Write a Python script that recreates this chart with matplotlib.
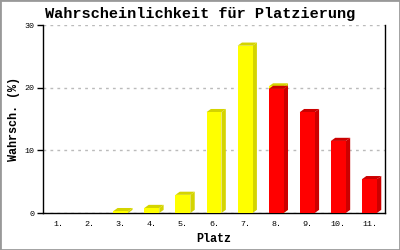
import matplotlib.pyplot as plt
from matplotlib.patches import Polygon, Rectangle

places = ['1.', '2.', '3.', '4.', '5.', '6.', '7.', '8.', '9.', '10.', '11.']
yellow_vals = [0, 0, 0.3, 0.8, 2.9, 16.1, 26.7, 20.2, 0, 0, 0]
red_vals = [0, 0, 0, 0, 0, 0, 0, 19.8, 16.1, 11.5, 5.4]

plt.rcParams['font.family'] = 'Liberation Mono'

fig = plt.figure(figsize=(4, 2.5), dpi=100)
ax = fig.add_axes([0.1075, 0.148, 0.855, 0.752])
ax.set_xlim(-0.5, len(places) - 0.5)
ax.set_ylim(0, 30)

w = 0.48
dx = 0.14
dy = 0.5


def bar3d(i, v, front, dark):
    if v <= 0:
        return
    l, r = i - w / 2, i + w / 2
    ax.add_patch(Polygon([(r, 0), (r + dx, dy), (r + dx, v + dy), (r, v)],
                         closed=True, fc=dark, ec='none', zorder=3))
    ax.add_patch(Polygon([(l, v), (l + dx, v + dy), (r + dx, v + dy), (r, v)],
                         closed=True, fc=dark, ec='none', zorder=3))
    ax.add_patch(Rectangle((l, 0), w, v, fc=front, ec='none', zorder=3))


for i, v in enumerate(yellow_vals):
    bar3d(i, v, '#ffff00', '#d4d400')
for i, v in enumerate(red_vals):
    bar3d(i, v, '#ff0000', '#cc0000')

ax.set_yticks([0, 10, 20, 30])
ax.set_xticks(range(len(places)))
ax.set_xticklabels(places)
ax.tick_params(axis='y', length=4, width=1, labelsize=6, pad=2)
ax.tick_params(axis='x', length=0, labelsize=6, pad=6)
ax.yaxis.grid(True, color='#bbbbbb', linestyle=(0, (2, 3)), linewidth=1)
ax.set_axisbelow(True)
ax.spines['top'].set_visible(False)
for s in ['left', 'right', 'bottom']:
    ax.spines[s].set_linewidth(1)
    ax.spines[s].set_color('black')

ax.set_xlabel('Platz', fontsize=8.5, fontweight='bold', labelpad=3)
ax.set_ylabel('Wahrsch. (%)', fontsize=8.5, fontweight='bold', labelpad=3)
fig.text(0.5, 0.945, 'Wahrscheinlichkeit für Platzierung', ha='center',
         va='center', fontsize=11, fontweight='bold')

fig.add_artist(Rectangle((0, 0), 1, 1, transform=fig.transFigure, fill=False,
                         ec='#999999', lw=2))

fig.savefig('out.png', dpi=100)
